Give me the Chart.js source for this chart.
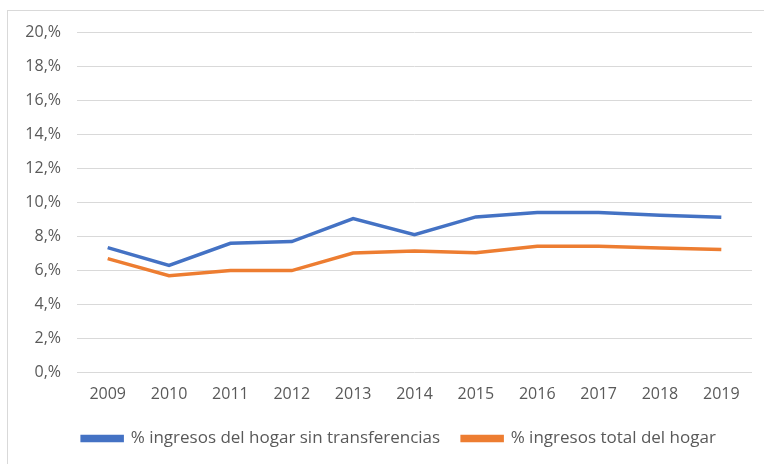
<!DOCTYPE html>
<html>
<head>
<meta charset="utf-8">
<script src="https://cdn.jsdelivr.net/npm/chart.js@4.4.1/dist/chart.umd.min.js"></script>
<style>
  html, body { margin: 0; padding: 0; background: #fff; width: 764px; height: 464px; overflow: hidden; }
  #box { position: absolute; left: 7px; top: 10px; width: 760px; height: 456px; border: 1px solid #d9d9d9; box-sizing: border-box; }
  #wrap { position: absolute; left: 0; top: 0; width: 758px; height: 454px; }
</style>
</head>
<body>
<div id="box"><div id="wrap"><canvas id="c"></canvas></div></div>
<script>
const categories = ["2009","2010","2011","2012","2013","2014","2015","2016","2017","2018","2019"];
const sinTransferencias = [7.35, 6.3, 7.6, 7.7, 9.05, 8.1, 9.15, 9.4, 9.4, 9.25, 9.13];
const totalHogar = [6.7, 5.7, 6.0, 6.0, 7.03, 7.15, 7.05, 7.42, 7.42, 7.33, 7.23];
const seriesNames = ["% ingresos del hogar sin transferencias", "% ingresos total del hogar"];
const yTicks = [0, 2, 4, 6, 8, 10, 12, 14, 16, 18, 20];

const family = "'Open Sans', 'DejaVu Sans', sans-serif";
const font = { family: family, size: 16 };

const legendShift = {
  id: 'legendShift',
  afterLayout(chart) {
    if (chart.legend) { chart.legend.left += 19; chart.legend.right += 19; }
  }
};

new Chart(document.getElementById('c'), {
  type: 'line',
  data: {
    labels: categories,
    datasets: [
      { label: seriesNames[0], data: sinTransferencias, borderColor: '#4472C4', backgroundColor: '#4472C4', borderWidth: 3.5, pointRadius: 0, tension: 0, fill: false },
      { label: seriesNames[1], data: totalHogar, borderColor: '#ED7D31', backgroundColor: '#ED7D31', borderWidth: 3.5, pointRadius: 0, tension: 0, fill: false }
    ]
  },
  plugins: [legendShift],
  options: {
    responsive: true,
    maintainAspectRatio: false,
    animation: false,
    layout: { padding: { top: 21, right: 14, left: 0, bottom: 8 } },
    plugins: {
      tooltip: { enabled: false },
      legend: {
        position: 'bottom',
        labels: { color: '#595959', font: { family: family, size: 17 }, boxWidth: 40, boxHeight: 4, padding: 22 }
      }
    },
    scales: {
      x: {
        offset: true,
        grid: { display: false },
        border: { display: false },
        ticks: { color: '#595959', font: font, padding: 4, maxRotation: 0 }
      },
      y: {
        min: 0, max: 20,
        afterBuildTicks: (s) => { s.ticks = yTicks.map(v => ({ value: v })); },
        afterFit: (s) => { s.width = 69; },
        grid: { color: '#d9d9d9', drawTicks: true, tickLength: 16, tickColor: 'rgba(0,0,0,0)' },
        border: { display: false },
        ticks: { color: '#595959', font: font, padding: 0, callback: (v) => v + ',%' }
      }
    }
  }
});
</script>
</body>
</html>
